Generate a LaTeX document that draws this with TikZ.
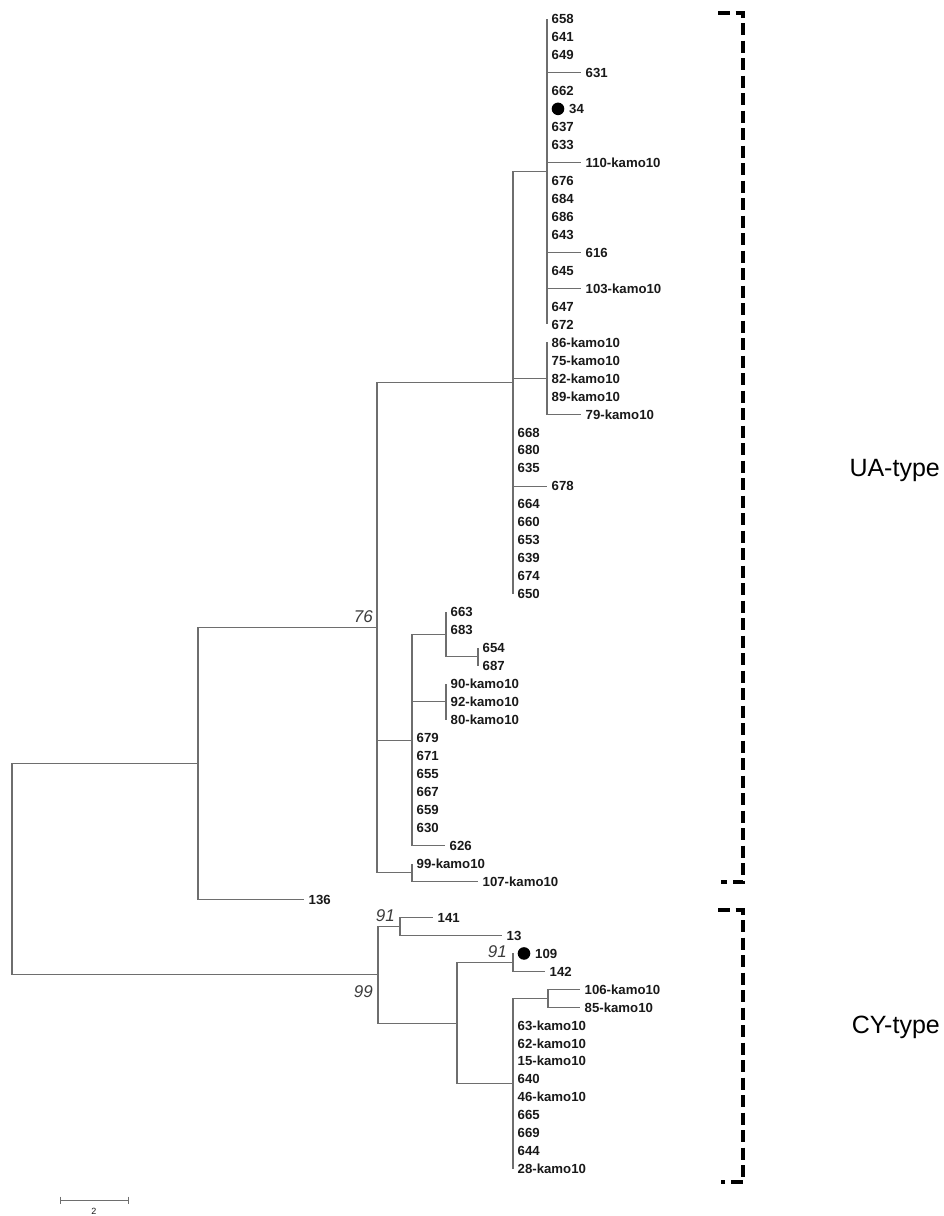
\documentclass[tikz,border=0pt]{standalone}
\usepackage{fontspec}
\setmainfont{Liberation Sans}
\definecolor{treegray}{RGB}{110,110,110}
\definecolor{labgray}{RGB}{25,25,25}
\definecolor{bootgray}{RGB}{60,60,60}
% vertical position of leaf row #1
\newcommand\ry[1]{19+17.97*(#1-1)}
% a leaf: name, parent, row, tip x, text
\newcommand\leafat[5]{%
  \coordinate (#1) at (#4,{\ry{#3}});
  \draw[branch] (#2) |- (#1);
  \node[leaflab] (#1t) at (#1) {#5};}
\begin{document}
\begin{tikzpicture}[x=1pt,y=-1pt,
  branch/.style={draw=treegray,line width=1.1pt},
  leaflab/.style={anchor=west,inner sep=0pt,xshift=4.5pt,text height=9.4pt,text depth=0pt,
    font=\fontsize{13.2}{15}\selectfont\bfseries,text=labgray},
  boot/.style={inner sep=0pt,font=\fontsize{17}{19}\selectfont\itshape,text=bootgray},
  dotmark/.style={circle,fill=black,minimum size=12.6pt,inner sep=0pt},
  bracket/.style={draw=black,line width=3.5pt,dash pattern=on 12pt off 5.5pt},
  typelab/.style={anchor=east,inner sep=0pt,font=\fontsize{25}{28}\selectfont}]
\useasboundingbox (0,0) rectangle (944,1216);

% internal nodes
\coordinate (root) at (12,869.2);
\coordinate (nH)   at (198,763.6);
\coordinate (n76)  at (377,627.7);
\coordinate (nC)   at (513,382.9);
\coordinate (nA)   at (547,171.75);
\coordinate (nB)   at (547,378.4);
\coordinate (nM)   at (412,740.06);
\coordinate (nD)   at (446,634.5);
\coordinate (nE)   at (478,656.9);
\coordinate (nF)   at (446,701.86);
\coordinate (nG)   at (412,872.6);
\coordinate (nCY)  at (378,974.8);
\coordinate (nI)   at (400,926.5);
\coordinate (nJ)   at (457,1023.1);
\coordinate (nK)   at (513,962.4);
\coordinate (nL)   at (513,1083.7);
\coordinate (nN)   at (548,998.4);

% backbone
\draw[branch] (root) |- (nH);
\draw[branch] (root) |- (nCY);
\draw[branch] (nH) |- (n76);
\draw[branch] (n76) |- (nC);
\draw[branch] (n76) |- (nM);
\draw[branch] (n76) |- (nG);
\draw[branch] (nC) |- (nA);
\draw[branch] (nC) |- (nB);
\draw[branch] (nM) |- (nD);
\draw[branch] (nD) |- (nE);
\draw[branch] (nM) |- (nF);
\draw[branch] (nCY) |- (nI);
\draw[branch] (nCY) |- (nJ);
\draw[branch] (nJ) |- (nK);
\draw[branch] (nJ) |- (nL);
\draw[branch] (nL) |- (nN);

% clade A
\leafat{l1}{nA}{1}{547}{658}
\leafat{l2}{nA}{2}{547}{641}
\leafat{l3}{nA}{3}{547}{649}
\leafat{l4}{nA}{4}{581}{631}
\leafat{l5}{nA}{5}{547}{662}
\coordinate (l6) at (547,{\ry{6}});
\draw[branch] (nA) |- (l6);
\node[dotmark] (d34) at (558,{\ry{6}}) {};
\node[leaflab] (l6t) at (d34.east) {34};
\leafat{l7}{nA}{7}{547}{637}
\leafat{l8}{nA}{8}{547}{633}
\leafat{l9}{nA}{9}{581}{110-kamo10}
\leafat{l10}{nA}{10}{547}{676}
\leafat{l11}{nA}{11}{547}{684}
\leafat{l12}{nA}{12}{547}{686}
\leafat{l13}{nA}{13}{547}{643}
\leafat{l14}{nA}{14}{581}{616}
\leafat{l15}{nA}{15}{547}{645}
\leafat{l16}{nA}{16}{581}{103-kamo10}
\leafat{l17}{nA}{17}{547}{647}
\leafat{l18}{nA}{18}{547}{672}
% clade B
\leafat{l19}{nB}{19}{547}{86-kamo10}
\leafat{l20}{nB}{20}{547}{75-kamo10}
\leafat{l21}{nB}{21}{547}{82-kamo10}
\leafat{l22}{nB}{22}{547}{89-kamo10}
\leafat{l23}{nB}{23}{581}{79-kamo10}
% clade C
\leafat{l24}{nC}{24}{513}{668}
\leafat{l25}{nC}{25}{513}{680}
\leafat{l26}{nC}{26}{513}{635}
\leafat{l27}{nC}{27}{547}{678}
\leafat{l28}{nC}{28}{513}{664}
\leafat{l29}{nC}{29}{513}{660}
\leafat{l30}{nC}{30}{513}{653}
\leafat{l31}{nC}{31}{513}{639}
\leafat{l32}{nC}{32}{513}{674}
\leafat{l33}{nC}{33}{513}{650}
% middle clade
\leafat{l34}{nD}{34}{446}{663}
\leafat{l35}{nD}{35}{446}{683}
\leafat{l36}{nE}{36}{478}{654}
\leafat{l37}{nE}{37}{478}{687}
\leafat{l38}{nF}{38}{446}{90-kamo10}
\leafat{l39}{nF}{39}{446}{92-kamo10}
\leafat{l40}{nF}{40}{446}{80-kamo10}
\leafat{l41}{nM}{41}{412}{679}
\leafat{l42}{nM}{42}{412}{671}
\leafat{l43}{nM}{43}{412}{655}
\leafat{l44}{nM}{44}{412}{667}
\leafat{l45}{nM}{45}{412}{659}
\leafat{l46}{nM}{46}{412}{630}
\leafat{l47}{nM}{47}{445}{626}
\leafat{l48}{nG}{48}{412}{99-kamo10}
\leafat{l49}{nG}{49}{478}{107-kamo10}
\leafat{l50}{nH}{50}{304}{136}
% CY clade
\leafat{l51}{nI}{51}{433}{141}
\leafat{l52}{nI}{52}{502}{13}
\coordinate (l53) at (513,{\ry{53}});
\draw[branch] (nK) |- (l53);
\node[dotmark] (d109) at (524,{\ry{53}}) {};
\node[leaflab] (l53t) at (d109.east) {109};
\leafat{l54}{nK}{54}{545}{142}
\leafat{l55}{nN}{55}{580}{106-kamo10}
\leafat{l56}{nN}{56}{580}{85-kamo10}
\leafat{l57}{nL}{57}{513}{63-kamo10}
\leafat{l58}{nL}{58}{513}{62-kamo10}
\leafat{l59}{nL}{59}{513}{15-kamo10}
\leafat{l60}{nL}{60}{513}{640}
\leafat{l61}{nL}{61}{513}{46-kamo10}
\leafat{l62}{nL}{62}{513}{665}
\leafat{l63}{nL}{63}{513}{669}
\leafat{l64}{nL}{64}{513}{644}
\leafat{l65}{nL}{65}{513}{28-kamo10}

% bootstrap values
\node[boot,anchor=base east] (b76) at (373,622) {76};
\node[boot,anchor=base east] (b91a) at (395,921) {91};
\node[boot,anchor=base east] (b91b) at (507,957) {91};
\node[boot,anchor=base east] (b99) at (373,997) {99};

% type brackets
\coordinate (ua1) at (718,13);
\coordinate (ua2) at (743,13);
\coordinate (ua3) at (743,882);
\coordinate (ua4) at (721,882);
\draw[bracket] (ua1) -- (ua2) -- (ua3) -- (ua4);
\coordinate (cy1) at (718,910);
\coordinate (cy2) at (743,910);
\coordinate (cy3) at (743,1182);
\coordinate (cy4) at (721,1182);
\draw[bracket] (cy1) -- (cy2) -- (cy3) -- (cy4);
\node[typelab] (ua) at (940,470) {UA-type};
\node[typelab] (cy) at (940,1027) {CY-type};

% scale bar
\coordinate (sb1) at (60,1200);
\coordinate (sb2) at (128,1200);
\draw[branch,line width=1pt] (sb1) -- (sb2);
\draw[branch,line width=1pt] ([yshift=3.5pt]sb1) -- ([yshift=-3.5pt]sb1);
\draw[branch,line width=1pt] ([yshift=3.5pt]sb2) -- ([yshift=-3.5pt]sb2);
\node[inner sep=0pt,font=\fontsize{9}{10}\selectfont,text=labgray] (sbl) at (94,1211) {2};
\end{tikzpicture}
\end{document}
